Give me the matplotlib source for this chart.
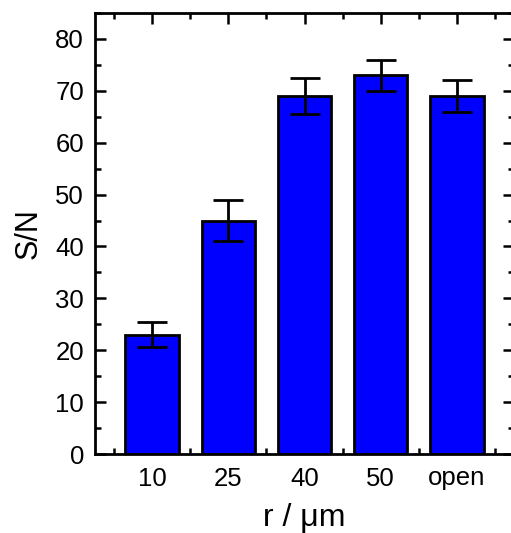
import matplotlib
matplotlib.use("Agg")
import matplotlib.pyplot as plt
from matplotlib.ticker import MultipleLocator, FixedLocator

plt.rcParams['font.family'] = ['Liberation Sans', 'DejaVu Sans']

categories = ["10", "25", "40", "50", "open"]
sn_values = [23, 45, 69, 73, 69]
sn_errors = [2.4, 4.0, 3.5, 3.0, 3.0]

W, H = 511, 533
fig = plt.figure(figsize=(W / 100, H / 100), dpi=100)
ax = fig.add_axes([95 / W, (H - 454) / H, (514 - 95) / W, (454 - 13) / H])

x = list(range(1, len(categories) + 1))
ax.bar(x, sn_values, width=0.7, color="#0000FF", edgecolor="black", linewidth=2.0, zorder=2)
ax.errorbar(x, sn_values, yerr=sn_errors, fmt="none", ecolor="black",
            elinewidth=2.0, capsize=10.5, capthick=2.0, zorder=3)

ax.set_xlim(0.25, 5.75)
ax.set_ylim(0, 85)
ax.xaxis.set_major_locator(FixedLocator(x))
ax.set_xticklabels(categories)
ax.xaxis.set_minor_locator(FixedLocator([v + 0.5 for v in range(0, 6)]))
ax.yaxis.set_major_locator(MultipleLocator(10))
ax.yaxis.set_minor_locator(MultipleLocator(5))

for s in ax.spines.values():
    s.set_linewidth(2.0)
ax.tick_params(which="both", direction="in", top=True, right=True, width=1.8)
ax.tick_params(which="major", length=8, labelsize=18.5)
ax.tick_params(axis="x", which="major", pad=9)
ax.tick_params(axis="y", which="major", pad=8)
ax.tick_params(which="minor", length=4.5)

ax.set_xlabel("r / \u03bcm", fontsize=23, labelpad=9)
ax.set_ylabel("S/N", fontsize=22, labelpad=8)

fig.savefig("out.png", dpi=100)
